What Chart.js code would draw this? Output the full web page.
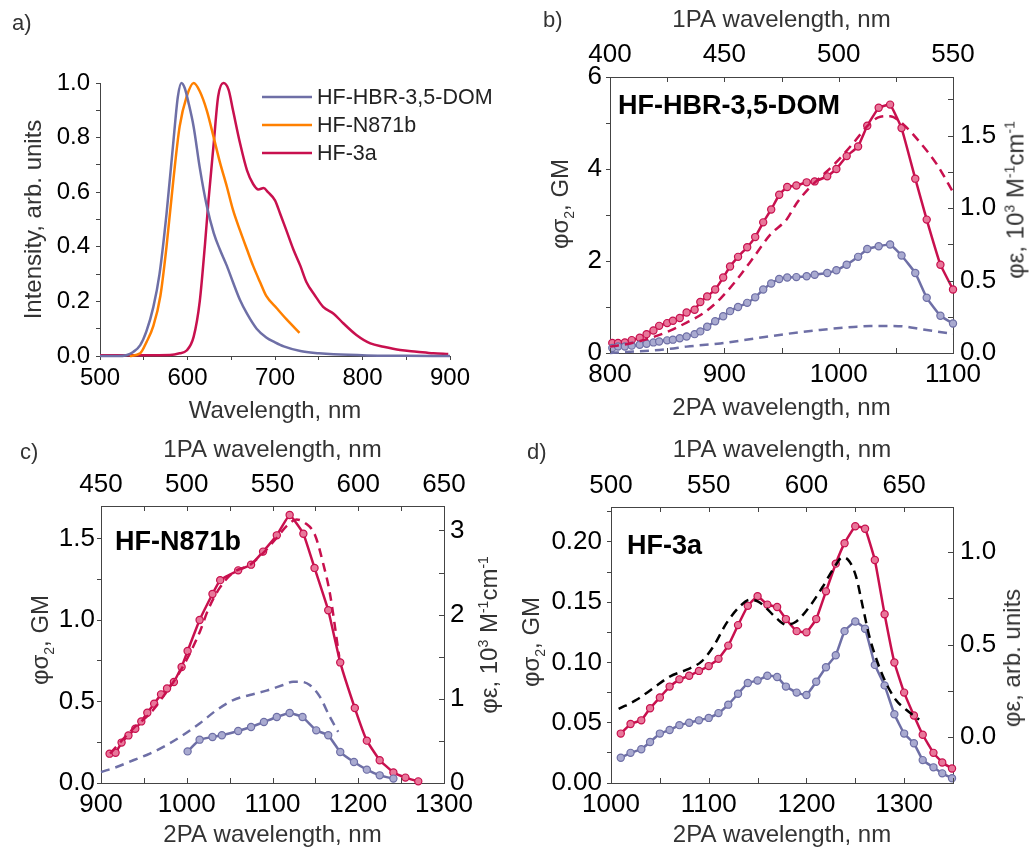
<!DOCTYPE html>
<html>
<head>
<meta charset="utf-8">
<script src="https://cdn.jsdelivr.net/npm/chart.js@4.4.0/dist/chart.umd.min.js"></script>
<style>
  body { margin: 0; background: #fff; width: 1033px; height: 852px; position: relative; overflow: hidden;
         font-family: "Liberation Sans", Arial, sans-serif; }
  canvas { position: absolute; }
  .lbl { position: absolute; line-height: 1; white-space: nowrap; }
  .pl { font-size: 22px; color: #333; }
  .nm { font-size: 27px; font-weight: bold; color: #000; }
  .rt { font-size: 24px; color: #333; transform: translate(-50%, -50%) rotate(-90deg); }
  .rt sup, .rt sub { font-size: 14px; }
</style>
</head>
<body>
<canvas id="pa" width="515" height="428" style="left:0;top:0"></canvas>
<canvas id="pb" width="518" height="428" style="left:515px;top:0"></canvas>
<canvas id="pc" width="515" height="424" style="left:0;top:428px"></canvas>
<canvas id="pd" width="518" height="424" style="left:515px;top:428px"></canvas>

<div class="lbl pl" style="left:12px;top:12px">a)</div>
<div class="lbl pl" style="left:543px;top:9px">b)</div>
<div class="lbl pl" style="left:20px;top:441px">c)</div>
<div class="lbl pl" style="left:527px;top:441px">d)</div>

<div class="lbl nm" style="left:618px;top:92px">HF-HBR-3,5-DOM</div>
<div class="lbl nm" style="left:115px;top:528px">HF-N871b</div>
<div class="lbl nm" style="left:627px;top:532px">HF-3a</div>

<div class="lbl rt" style="left:562px;top:204px">φσ<sub>2</sub>, GM</div>
<div class="lbl rt" style="left:1015px;top:200px">φε, 10<sup>3</sup> M<sup>-1</sup>cm<sup>-1</sup></div>
<div class="lbl rt" style="left:42px;top:640px">φσ<sub>2</sub>, GM</div>
<div class="lbl rt" style="left:488px;top:635px">φε, 10<sup>3</sup> M<sup>-1</sup>cm<sup>-1</sup></div>
<div class="lbl rt" style="left:533px;top:642px">φσ<sub>2</sub>, GM</div>
<div class="lbl rt" style="left:1012px;top:658px">φε, arb. units</div>

<script>
// ---- panel a: emission spectra ----
const aDomX = [500, 520, 530, 538, 546, 553, 561, 568, 576, 584, 589, 593, 597, 601, 607, 614, 622, 630, 637, 645, 652, 660, 668, 679, 690, 700, 710, 729, 750, 767, 805, 850, 900];
const aDomY = [0, 0, 0.003, 0.015, 0.04, 0.09, 0.18, 0.3, 0.52, 0.79, 0.95, 1.0, 0.98, 0.93, 0.84, 0.69, 0.55, 0.45, 0.39, 0.33, 0.27, 0.205, 0.155, 0.1, 0.068, 0.05, 0.035, 0.018, 0.01, 0.006, 0.002, 0.001, 0];
const aN871X = [534, 546, 553, 561, 569, 576, 584, 591, 599, 607, 614, 622, 630, 637, 645, 652, 660, 668, 675, 683, 690, 702, 713, 728];
const aN871Y = [0, 0.01, 0.05, 0.11, 0.22, 0.4, 0.65, 0.84, 0.95, 1.0, 0.97, 0.9, 0.8, 0.71, 0.62, 0.535, 0.46, 0.39, 0.33, 0.27, 0.22, 0.175, 0.135, 0.085];
const a3aX = [500, 550, 580, 591, 599, 607, 614, 620, 624, 630, 635, 641, 647, 652, 660, 668, 675, 681, 687, 692, 700, 706, 713, 721, 729, 736, 746, 755, 767, 778, 793, 809, 824, 843, 862, 881, 898];
const a3aY = [0.003, 0.003, 0.004, 0.01, 0.02, 0.07, 0.2, 0.41, 0.57, 0.78, 0.95, 1.0, 0.975, 0.9, 0.78, 0.68, 0.63, 0.61, 0.615, 0.6, 0.57, 0.52, 0.46, 0.39, 0.33, 0.27, 0.22, 0.18, 0.155, 0.12, 0.077, 0.046, 0.034, 0.022, 0.016, 0.01, 0.007];

// ---- panel b: HF-HBR-3,5-DOM ----
const b2paX = [802, 807, 813, 819, 826, 832, 838, 843, 850, 855, 861, 867, 874, 879, 885, 892, 899, 905, 912, 920, 927, 934, 941, 948, 955, 963, 972, 979, 990, 998, 1007, 1017, 1025, 1035, 1045, 1055, 1067, 1077, 1089, 1100];
const bRedY = [0.22, 0.22, 0.23, 0.28, 0.33, 0.41, 0.49, 0.59, 0.65, 0.70, 0.76, 0.88, 0.94, 1.11, 1.23, 1.38, 1.64, 1.88, 2.09, 2.30, 2.52, 2.84, 3.12, 3.44, 3.61, 3.64, 3.71, 3.73, 3.84, 4.0, 4.28, 4.49, 4.94, 5.33, 5.40, 4.89, 3.79, 2.90, 1.92, 1.38];
const bBlueY = [0.11, 0.14, 0.14, 0.16, 0.18, 0.20, 0.23, 0.25, 0.275, 0.29, 0.32, 0.36, 0.41, 0.47, 0.57, 0.69, 0.80, 0.91, 1.0, 1.09, 1.21, 1.38, 1.51, 1.61, 1.64, 1.65, 1.67, 1.70, 1.74, 1.80, 1.92, 2.09, 2.26, 2.32, 2.36, 2.12, 1.74, 1.20, 0.81, 0.64];
const bRedAbsX = [400, 408.8, 419, 426.3, 433.5, 440.9, 448.2, 455.5, 462.8, 470, 477.4, 481.7, 487.5, 491.9, 499.2, 506.5, 513.8, 518.2, 522.5, 528.4, 535.7, 543, 550];
const bRedAbsY = [0.044, 0.066, 0.11, 0.154, 0.21, 0.275, 0.374, 0.507, 0.66, 0.815, 0.925, 1.035, 1.145, 1.21, 1.32, 1.45, 1.586, 1.63, 1.634, 1.575, 1.45, 1.3, 1.11];
const bBlueAbsX = [400, 408.8, 419, 426.3, 433.5, 448.2, 462.8, 477.4, 491.9, 506.5, 513.8, 521.1, 528.4, 535.7, 543, 550];
const bBlueAbsY = [0, 0.009, 0.018, 0.029, 0.044, 0.066, 0.099, 0.132, 0.159, 0.18, 0.187, 0.187, 0.183, 0.165, 0.148, 0.132];

// ---- panel c: HF-N871b ----
const cRedX = [910, 917, 924, 932, 940, 947, 954, 962, 970, 977, 985, 994, 1001, 1015, 1030, 1039, 1060, 1075, 1089, 1105, 1120, 1136, 1149, 1165, 1179, 1196, 1210, 1225, 1241, 1255, 1270];
const cRedY = [0.18, 0.186, 0.248, 0.292, 0.333, 0.378, 0.431, 0.487, 0.544, 0.58, 0.62, 0.712, 0.81, 1.0, 1.16, 1.245, 1.305, 1.34, 1.42, 1.52, 1.645, 1.53, 1.32, 1.06, 0.74, 0.46, 0.26, 0.14, 0.065, 0.033, 0.01];
const cBlueX = [1001, 1015, 1030, 1041, 1060, 1075, 1090, 1105, 1120, 1135, 1151, 1165, 1179, 1195, 1210, 1225, 1241];
const cBlueY = [0.194, 0.266, 0.282, 0.293, 0.319, 0.344, 0.374, 0.405, 0.43, 0.405, 0.323, 0.293, 0.19, 0.129, 0.082, 0.047, 0.027];
const cRedAbsX = [455.3, 468.9, 478.6, 488.3, 496, 502.8, 507.7, 512.5, 519.3, 527.1, 536.8, 544.5, 552.4, 558.2, 564, 568.9, 574.7, 579.5, 583.4, 588.9];
const cRedAbsY = [0.35, 0.65, 0.826, 1.085, 1.32, 1.58, 1.8, 2.06, 2.32, 2.5, 2.59, 2.73, 2.91, 3.05, 3.13, 3.09, 2.95, 2.61, 2.26, 1.5];
const cBlueAbsX = [450, 459.1, 468.8, 478.5, 488.3, 497.9, 507.7, 517.4, 527.1, 536.8, 546.5, 556.2, 562, 565.9, 571.7, 577.6, 583.4, 588.3];
const cBlueAbsY = [0.131, 0.19, 0.27, 0.35, 0.45, 0.57, 0.71, 0.866, 0.985, 1.045, 1.097, 1.164, 1.204, 1.204, 1.164, 1.025, 0.787, 0.608];

// ---- panel d: HF-3a ----
const d2paX = [1010, 1020, 1031, 1040, 1050, 1060, 1070, 1080, 1090, 1100, 1110, 1120, 1130, 1140, 1150, 1160, 1170, 1179, 1190, 1200, 1210, 1220, 1230, 1239, 1250, 1260, 1270, 1280, 1290, 1300, 1310, 1319, 1330, 1339, 1349];
const dRedY = [0.041, 0.049, 0.052, 0.062, 0.071, 0.080, 0.086, 0.089, 0.093, 0.097, 0.103, 0.114, 0.131, 0.147, 0.155, 0.148, 0.146, 0.136, 0.126, 0.125, 0.136, 0.159, 0.182, 0.199, 0.213, 0.211, 0.185, 0.14, 0.10, 0.075, 0.056, 0.040, 0.025, 0.017, 0.012];
const dBlueY = [0.021, 0.025, 0.028, 0.034, 0.041, 0.044, 0.048, 0.050, 0.052, 0.054, 0.058, 0.065, 0.074, 0.083, 0.085, 0.089, 0.088, 0.080, 0.075, 0.073, 0.084, 0.096, 0.106, 0.126, 0.134, 0.128, 0.098, 0.081, 0.057, 0.041, 0.033, 0.019, 0.013, 0.008, 0.004];
const dAbsX = [503.9, 513.3, 521.8, 530.3, 538.8, 546.4, 552.4, 559.1, 565.9, 571, 575.3, 579.5, 584.6, 589.7, 594.8, 601.6, 608.4, 613.5, 618.6, 622, 625.4, 628.8, 632.2, 636.5, 640.7, 645.8, 650.9, 657.7];
const dAbsY = [0.151, 0.202, 0.265, 0.328, 0.364, 0.409, 0.49, 0.616, 0.706, 0.742, 0.733, 0.697, 0.643, 0.607, 0.625, 0.706, 0.814, 0.905, 0.973, 0.95, 0.868, 0.706, 0.544, 0.4, 0.292, 0.2, 0.148, 0.094];

const FONT = '"Liberation Sans", Arial, sans-serif';
const AXIS = '#444';
const BLUE = '#6e6fa6', BLUE_PT = '#a9aad0';
const RED = '#c8104e', RED_PT = '#e8779a';
const ORANGE = '#ff8000';

function pts(xs, ys) {
    return xs.map((x, i) => ({ x: x, y: ys[i] }));
}

function isMult(v, m) {
    return Math.abs(v / m - Math.round(v / m)) < 1e-6;
}

// o.inward: tick marks are drawn inside the plot by the inTicks plugin
function axis(o) {
    const horiz = o.pos === 'top' || o.pos === 'bottom';
    return {
        type: 'linear',
        position: o.pos,
        min: o.min,
        max: o.max,
        afterFit: function (s) {
            if (horiz) s.height = o.size; else s.width = o.size;
        },
        grid: { drawOnChartArea: false, drawTicks: !o.inward, tickLength: 4, color: AXIS, tickWidth: 1 },
        border: { display: true, color: AXIS, width: 1 },
        ticks: {
            stepSize: o.step,
            autoSkip: false,
            maxRotation: 0,
            includeBounds: false,
            padding: o.inward ? o.pad + 4 : o.pad,
            color: '#000',
            font: { size: o.fs || 26, family: FONT },
            callback: v => isMult(v, o.major) ? v.toFixed(o.dec) : ''
        },
        title: o.title ? {
            display: true, text: o.title, color: '#333',
            font: { size: 24, family: FONT }, padding: o.tpad
        } : { display: false }
    };
}

const inTicks = {
    id: 'inTicks',
    afterDatasetsDraw(chart, args, opts) {
        const ctx = chart.ctx;
        const a = chart.chartArea;
        const len = 5;
        ctx.save();
        ctx.strokeStyle = AXIS;
        ctx.lineWidth = 1;
        (opts.ids || []).forEach(id => {
            const s = chart.scales[id];
            s.ticks.forEach(t => {
                const p = Math.round(s.getPixelForValue(t.value)) + 0.5;
                ctx.beginPath();
                if (s.position === 'top') { ctx.moveTo(p, a.top); ctx.lineTo(p, a.top + len); }
                else if (s.position === 'bottom') { ctx.moveTo(p, a.bottom); ctx.lineTo(p, a.bottom - len); }
                else if (s.position === 'right') { ctx.moveTo(a.right, p); ctx.lineTo(a.right - len, p); }
                else { ctx.moveTo(a.left, p); ctx.lineTo(a.left + len, p); }
                ctx.stroke();
            });
        });
        ctx.restore();
    }
};

// legend drawn inside the plot of panel a
const insideLegend = {
    id: 'insideLegend',
    afterDraw(chart, args, opts) {
        if (opts.x === undefined) return;
        const ctx = chart.ctx;
        ctx.save();
        ctx.font = '21.5px ' + FONT;
        ctx.textBaseline = 'middle';
        chart.data.datasets.forEach((ds, i) => {
            const y = opts.y + i * opts.gap;
            ctx.strokeStyle = ds.borderColor;
            ctx.lineWidth = 2.5;
            ctx.beginPath();
            ctx.moveTo(opts.x, y);
            ctx.lineTo(opts.x + opts.len, y);
            ctx.stroke();
            ctx.fillStyle = '#222';
            ctx.fillText(ds.label, opts.x + opts.len + 5, y + 1);
        });
        ctx.restore();
    }
};

function solid(label, xs, ys, color, fill) {
    return {
        label: label, data: pts(xs, ys), xAxisID: 'x', yAxisID: 'y',
        borderColor: color, borderWidth: 2.5, tension: 0.1,
        pointRadius: 3.6, pointBorderWidth: 1.2, pointBackgroundColor: fill, pointBorderColor: color,
        clip: 8
    };
}

function dashed(label, xs, ys, color) {
    return {
        label: label, data: pts(xs, ys), xAxisID: 'x2', yAxisID: 'y2',
        borderColor: color, borderWidth: 2.5, borderDash: [9, 6],
        cubicInterpolationMode: 'monotone', pointRadius: 0, clip: 8
    };
}

function baseOpts(extra) {
    return Object.assign({
        responsive: false,
        animation: false,
        devicePixelRatio: 1,
        events: [],
        layout: { padding: 0 }
    }, extra);
}

const noLegend = { legend: { display: false }, tooltip: { enabled: false } };

// panel a
new Chart(document.getElementById('pa').getContext('2d'), {
    type: 'line',
    data: {
        datasets: [
            { label: 'HF-HBR-3,5-DOM', data: pts(aDomX, aDomY), borderColor: BLUE, borderWidth: 2.5, pointRadius: 0, cubicInterpolationMode: 'monotone', clip: 8 },
            { label: 'HF-N871b', data: pts(aN871X, aN871Y), borderColor: ORANGE, borderWidth: 2.5, pointRadius: 0, cubicInterpolationMode: 'monotone', clip: 8 },
            { label: 'HF-3a', data: pts(a3aX, a3aY), borderColor: RED, borderWidth: 2.5, pointRadius: 0, cubicInterpolationMode: 'monotone', clip: 8 }
        ]
    },
    options: baseOpts({
        layout: { padding: { top: 83, right: 65, left: 0, bottom: 0 } },
        plugins: Object.assign({}, noLegend, { insideLegend: { x: 262, y: 97, gap: 28, len: 50 } }),
        scales: {
            x: axis({ pos: 'bottom', min: 500, max: 900, step: 50, major: 100, dec: 0, size: 72, pad: 3.6, fs: 24,
                      title: 'Wavelength, nm', tpad: { top: 0, bottom: 2.6 } }),
            y: axis({ pos: 'left', min: 0, max: 1.0, step: 0.1, major: 0.2, dec: 1, size: 100, pad: 6, fs: 24,
                      title: 'Intensity, arb. units', tpad: { top: 19.6, bottom: 0 } })
        }
    }),
    plugins: [insideLegend]
});

// panel b
new Chart(document.getElementById('pb').getContext('2d'), {
    type: 'line',
    data: {
        datasets: [
            dashed('HF-HBR-3,5-DOM 1PA (blue)', bBlueAbsX, bBlueAbsY, BLUE),
            dashed('HF-HBR-3,5-DOM 1PA (red)', bRedAbsX, bRedAbsY, RED),
            solid('HF-HBR-3,5-DOM 2PA (blue)', b2paX, bBlueY, BLUE, BLUE_PT),
            solid('HF-HBR-3,5-DOM 2PA (red)', b2paX, bRedY, RED, RED_PT)
        ]
    },
    options: baseOpts({
        plugins: Object.assign({}, noLegend, { inTicks: { ids: ['x', 'x2', 'y2'] } }),
        scales: {
            x: axis({ pos: 'bottom', min: 800, max: 1100, step: 50, major: 100, dec: 0, size: 75, pad: 2.4, inward: true,
                      title: '2PA wavelength, nm', tpad: { top: 0, bottom: 5.6 } }),
            x2: axis({ pos: 'top', min: 400, max: 550, step: 25, major: 50, dec: 0, size: 77, pad: 2.4, inward: true,
                       title: '1PA wavelength, nm', tpad: { top: 5.6, bottom: 0 } }),
            y: axis({ pos: 'left', min: 0, max: 6, step: 1, major: 2, dec: 0, size: 95, pad: 4 }),
            y2: axis({ pos: 'right', min: 0, max: 1.904, step: 0.25, major: 0.5, dec: 1, size: 80, pad: 3, inward: true })
        }
    }),
    plugins: [inTicks]
});

// panel c
new Chart(document.getElementById('pc').getContext('2d'), {
    type: 'line',
    data: {
        datasets: [
            dashed('HF-N871b 1PA (blue)', cBlueAbsX, cBlueAbsY, BLUE),
            dashed('HF-N871b 1PA (red)', cRedAbsX, cRedAbsY, RED),
            solid('HF-N871b 2PA (blue)', cBlueX, cBlueY, BLUE, BLUE_PT),
            solid('HF-N871b 2PA (red)', cRedX, cRedY, RED, RED_PT)
        ]
    },
    options: baseOpts({
        plugins: Object.assign({}, noLegend, { inTicks: { ids: ['x', 'x2', 'y2'] } }),
        scales: {
            x: axis({ pos: 'bottom', min: 900, max: 1300, step: 50, major: 100, dec: 0, size: 69, pad: 2.4, inward: true,
                      title: '2PA wavelength, nm', tpad: { top: 0, bottom: 2.6 } }),
            x2: axis({ pos: 'top', min: 450, max: 650, step: 25, major: 50, dec: 0, size: 78, pad: 1.4, inward: true,
                       title: '1PA wavelength, nm', tpad: { top: 7.6, bottom: 0 } }),
            y: axis({ pos: 'left', min: 0, max: 1.7, step: 0.25, major: 0.5, dec: 1, size: 101, pad: 2 }),
            y2: axis({ pos: 'right', min: 0, max: 3.29, step: 0.5, major: 1, dec: 0, size: 71, pad: 2, inward: true })
        }
    }),
    plugins: [inTicks]
});

// panel d
new Chart(document.getElementById('pd').getContext('2d'), {
    type: 'line',
    data: {
        datasets: [
            dashed('HF-3a 1PA', dAbsX, dAbsY, '#000'),
            solid('HF-3a 2PA (blue)', d2paX, dBlueY, BLUE, BLUE_PT),
            solid('HF-3a 2PA (red)', d2paX, dRedY, RED, RED_PT)
        ]
    },
    options: baseOpts({
        plugins: Object.assign({}, noLegend, { inTicks: { ids: ['x', 'x2', 'y2'] } }),
        scales: {
            x: axis({ pos: 'bottom', min: 1000, max: 1350, step: 50, major: 100, dec: 0, size: 69, pad: 2.4, inward: true,
                      title: '2PA wavelength, nm', tpad: { top: 0, bottom: 2.6 } }),
            x2: axis({ pos: 'top', min: 500, max: 675, step: 25, major: 50, dec: 0, size: 79, pad: 1.4, inward: true,
                       title: '1PA wavelength, nm', tpad: { top: 7.6, bottom: 0 } }),
            y: axis({ pos: 'left', min: 0, max: 0.229, step: 0.025, major: 0.05, dec: 2, size: 96, pad: 5 }),
            y2: axis({ pos: 'right', min: -0.25, max: 1.245, step: 0.25, major: 0.5, dec: 1, size: 80, pad: 3, inward: true })
        }
    }),
    plugins: [inTicks]
});
</script>
</body>
</html>
